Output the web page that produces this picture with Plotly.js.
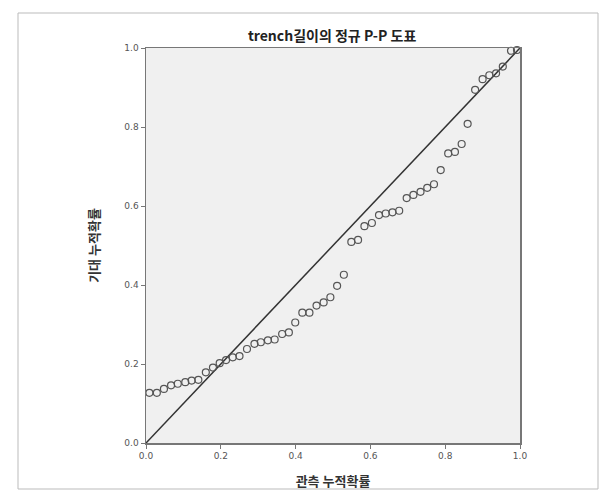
<!DOCTYPE html>
<html>
<head>
<meta charset="utf-8">
<script src="https://cdn.plot.ly/plotly-3.0.1.min.js"></script>
<style>html,body{margin:0;padding:0;background:#fff}#chart{width:615px;height:502px}</style>
</head>
<body>
<div id="chart"></div>
<script>
const chartTitle = "trench길이의 정규 P-P 도표";
const xTitle = "관측 누적확률";
const yTitle = "기대 누적확률";
const tickVals = [0, 0.2, 0.4, 0.6, 0.8, 1.0];
const tickLabels = ["0.0", "0.2", "0.4", "0.6", "0.8", "1.0"];
const observedCum = [0.009, 0.029, 0.048, 0.067, 0.085, 0.105, 0.122, 0.140, 0.160, 0.179,
  0.197, 0.214, 0.232, 0.250, 0.270, 0.290, 0.307, 0.326, 0.344, 0.364,
  0.382, 0.399, 0.418, 0.437, 0.456, 0.475, 0.493, 0.511, 0.529, 0.549,
  0.567, 0.584, 0.604, 0.623, 0.641, 0.659, 0.677, 0.697, 0.715, 0.734,
  0.752, 0.770, 0.788, 0.808, 0.826, 0.844, 0.860, 0.880, 0.900, 0.918,
  0.936, 0.954, 0.976, 0.992];
const expectedCum = [0.127, 0.127, 0.137, 0.146, 0.150, 0.154, 0.158, 0.160, 0.179, 0.191,
  0.202, 0.210, 0.217, 0.220, 0.238, 0.251, 0.255, 0.260, 0.262, 0.276,
  0.280, 0.305, 0.330, 0.330, 0.348, 0.356, 0.369, 0.398, 0.426, 0.509,
  0.514, 0.549, 0.557, 0.577, 0.581, 0.584, 0.588, 0.620, 0.628, 0.636,
  0.646, 0.655, 0.691, 0.733, 0.737, 0.757, 0.808, 0.894, 0.921, 0.931,
  0.936, 0.953, 0.993, 0.995];
const refLineX = [0, 1];
const refLineY = [0, 1];

const tickFont = {family: "DejaVu Sans, sans-serif", size: 9, color: "#555"};
const krFont = "Noto Sans CJK KR, sans-serif";

const traces = [
  {x: refLineX, y: refLineY, mode: "lines", type: "scatter",
   line: {color: "#333", width: 1.5}, hoverinfo: "skip", cliponaxis: true},
  {x: observedCum, y: expectedCum, mode: "markers", type: "scatter",
   marker: {symbol: "circle-open", size: 7, color: "#555", line: {width: 1.2, color: "#555"}},
   cliponaxis: false}
];

const axisCommon = {
  range: [0, 1], tickvals: tickVals, ticktext: tickLabels,
  showgrid: false, zeroline: false, showline: true, linecolor: "#777", linewidth: 1.5,
  mirror: true, ticks: "outside", ticklen: 4, tickcolor: "#777", tickwidth: 1,
  tickfont: tickFont, fixedrange: true
};

const layout = {
  width: 615, height: 502,
  margin: {l: 146, r: 95, t: 48, b: 59},
  paper_bgcolor: "#ffffff", plot_bgcolor: "#f0f0f0",
  showlegend: false,
  title: {text: chartTitle, x: 0.54, xanchor: "center", y: 0.928, yanchor: "middle",
          font: {family: krFont, size: 14, color: "#222", weight: "bold"}},
  xaxis: Object.assign({}, axisCommon, {
    title: {text: xTitle, standoff: 16, font: {family: krFont, size: 13, color: "#333", weight: "bold"}}
  }),
  yaxis: Object.assign({}, axisCommon, {
    title: {text: yTitle, standoff: 22, font: {family: krFont, size: 13, color: "#333", weight: "bold"}}
  }),
  shapes: [
    {type: "rect", xref: "paper", yref: "paper",
     x0: -128/374, x1: 452/374, y0: -46/395, y1: 430/395,
     line: {color: "#bbb", width: 1}, fillcolor: "rgba(0,0,0,0)", layer: "below"}
  ]
};

Plotly.newPlot("chart", traces, layout, {displayModeBar: false, staticPlot: true});
</script>
</body>
</html>
